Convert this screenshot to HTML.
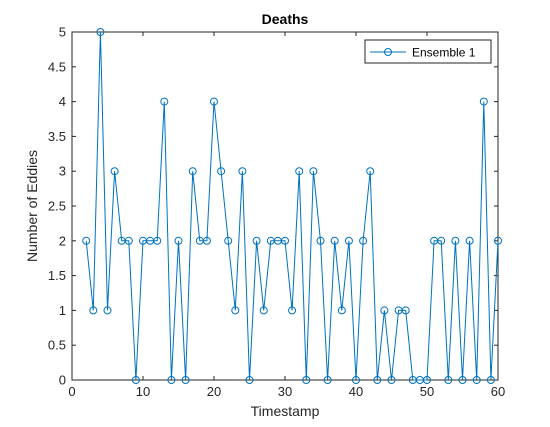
<!DOCTYPE html>
<html><head><meta charset="utf-8"><style>
body{margin:0;background:#fff;}
svg{display:block;font-family:"Liberation Sans",sans-serif;}
</style></head><body>
<svg id="c" width="550" height="427"></svg>
<script>
const xValues=[2,3,4,5,6,7,8,9,10,11,12,13,14,15,16,17,18,19,20,21,22,23,24,25,26,27,28,29,30,31,32,33,34,35,36,37,38,39,40,41,42,43,44,45,46,47,48,49,50,51,52,53,54,55,56,57,58,59,60];
const deaths=[2,1,5,1,3,2,2,0,2,2,2,4,0,2,0,3,2,2,4,3,2,1,3,0,2,1,2,2,2,1,3,0,3,2,0,2,1,2,0,2,3,0,1,0,1,1,0,0,0,2,2,0,2,0,2,0,4,0,2];
const xTicks=[0,10,20,30,40,50,60];
const yTicks=[0,0.5,1,1.5,2,2.5,3,3.5,4,4.5,5];
const L=72,R=498,T=32,B=380;
const sx=v=>L+(v-0)/60*(R-L);
const sy=v=>B-(v-0)/5*(B-T);
const svg=document.getElementById('c');
const NS='http://www.w3.org/2000/svg';
function mk(tag,attrs,parent){const e=document.createElementNS(NS,tag);for(const k in attrs)e.setAttribute(k,attrs[k]);(parent||svg).appendChild(e);return e;}
const bg=mk('rect',{x:L,y:T,width:R-L,height:B-T,fill:'#fff',stroke:'#262626','stroke-width':1});


xTicks.forEach(t=>{const x=sx(t);
 mk('line',{x1:x,x2:x,y1:B,y2:B-4,stroke:'#262626'});
 mk('line',{x1:x,x2:x,y1:T,y2:T+4,stroke:'#262626'});
 const tx=mk('text',{x:x,y:B+16,'text-anchor':'middle','font-size':13,fill:'#262626'});tx.textContent=t;
 
 
});
yTicks.forEach(t=>{const y=sy(t);
 mk('line',{x1:L,x2:L+4,y1:y,y2:y,stroke:'#262626'});
 mk('line',{x1:R,x2:R-4,y1:y,y2:y,stroke:'#262626'});
 const tx=mk('text',{x:L-6,y:y+4.5,'text-anchor':'end','font-size':13,fill:'#262626'});tx.textContent=t;
 
 
});
const line=mk('polyline',{points:xValues.map((x,i)=>sx(x)+','+sy(deaths[i])).join(' '),fill:'none',stroke:'#0072BD','stroke-width':1});


xValues.forEach((x,i)=>{const c=mk('circle',{cx:sx(x),cy:sy(deaths[i]),r:3.5,fill:'none',stroke:'#0072BD','stroke-width':1});
 
 
});
const title=mk('text',{x:(L+R)/2,y:24,'text-anchor':'middle','font-size':14,'font-weight':'bold',fill:'#000'});title.textContent='Deaths';


const xl=mk('text',{x:(L+R)/2,y:416,'text-anchor':'middle','font-size':14,fill:'#262626'});xl.textContent='Timestamp';


const yl=mk('text',{x:0,y:0,'text-anchor':'middle','font-size':14,fill:'#262626',transform:'translate(37,206) rotate(-90)'});yl.textContent='Number of Eddies';


const lg=mk('g',{});


mk('rect',{x:365,y:40,width:126,height:23,fill:'#fff',stroke:'#262626','stroke-width':1},lg);
mk('line',{x1:370,x2:406,y1:52,y2:52,stroke:'#0072BD'},lg);
mk('circle',{cx:388,cy:52,r:3.5,fill:'none',stroke:'#0072BD'},lg);
const lt=mk('text',{x:412,y:56.5,'font-size':12,fill:'#000'},lg);lt.textContent='Ensemble 1';


</script>
</body></html>
